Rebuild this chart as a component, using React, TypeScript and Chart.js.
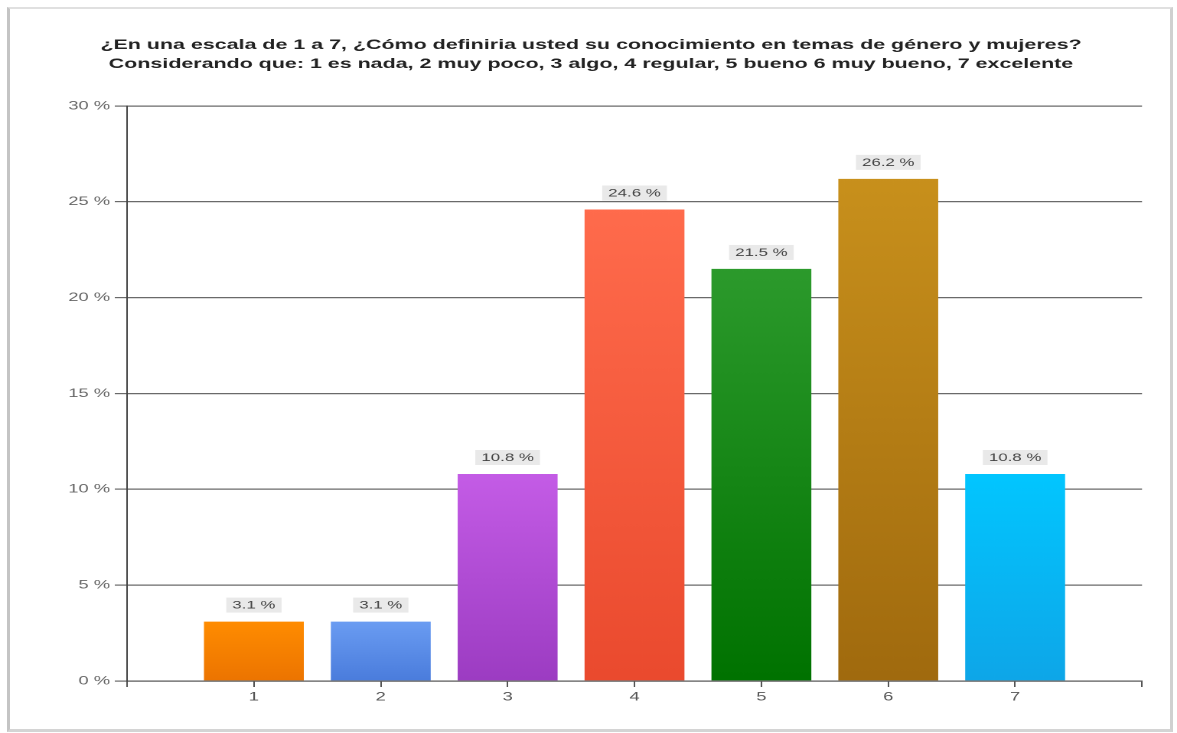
import React, { useEffect, useRef } from "react";
import { Chart, registerables } from "chart.js";

Chart.register(...registerables);

const TITLE_LINES = [
  "¿En una escala de 1 a 7, ¿Cómo definiria usted su conocimiento en temas de género y mujeres?",
  "Considerando que: 1 es nada, 2 muy poco, 3 algo, 4 regular, 5 bueno 6 muy bueno, 7 excelente",
];
const CATEGORIES = ["1", "2", "3", "4", "5", "6", "7"];
const VALUES = [3.1, 3.1, 10.8, 24.6, 21.5, 26.2, 10.8];
const TOP_COLORS = ["#FF8C00", "#6A9CF2", "#C45CE6", "#FF6B4C", "#2C9A2C", "#C8901C", "#02C6FF"];
const BOTTOM_COLORS = ["#EC7400", "#4A7CDC", "#9C3CC2", "#EA4A2E", "#007200", "#A06A0E", "#0EA6E8"];
const Y_TICKS = [0, 5, 10, 15, 20, 25, 30];

const DISPLAY_W = 1177;
const DISPLAY_H = 733;
const LOGICAL_W = 769;
const S = DISPLAY_W / LOGICAL_W;

const FONT = '"Liberation Sans", Arial, sans-serif';

const titlePlugin = {
  id: "stretchedTitle",
  afterDraw(chart: any) {
    const ctx = chart.ctx;
    ctx.save();
    ctx.font = `bold 14px ${FONT}`;
    ctx.fillStyle = "#222";
    ctx.textAlign = "center";
    ctx.textBaseline = "middle";
    const cx = 591 / S;
    TITLE_LINES.forEach((line, i) => ctx.fillText(line, cx, 45 + i * 19));
    ctx.restore();
  },
};

const valueLabelPlugin = {
  id: "valueLabels",
  afterDatasetsDraw(chart: any) {
    const ctx = chart.ctx;
    const meta = chart.getDatasetMeta(0);
    ctx.save();
    ctx.font = `11px ${FONT}`;
    ctx.textAlign = "center";
    ctx.textBaseline = "middle";
    meta.data.forEach((bar: any, i: number) => {
      const v = chart.data.datasets[0].data[i];
      if (v === null || v === undefined) return;
      const text = `${Number(v).toFixed(1)} %`;
      const w = ctx.measureText(text).width + 8;
      const h = 15;
      const bottom = bar.y - 9;
      ctx.fillStyle = "#e9e9e9";
      ctx.fillRect(bar.x - w / 2, bottom - h, w, h);
      ctx.fillStyle = "#444";
      ctx.fillText(text, bar.x, bottom - h / 2 + 0.5);
    });
    ctx.restore();
  },
};

export default function App() {
  const canvasRef = useRef<HTMLCanvasElement | null>(null);

  useEffect(() => {
    const canvas = canvasRef.current;
    if (!canvas) return;
    const labels = ["", ...CATEGORIES, ""];
    const data = [null, ...VALUES, null];
    const chart = new Chart(canvas, {
      type: "bar",
      data: {
        labels,
        datasets: [
          {
            data,
            borderWidth: 0,
            categoryPercentage: 1,
            barPercentage: 100 / 127,
            backgroundColor: (c: any) => {
              const i = c.dataIndex - 1;
              if (i < 0 || i >= VALUES.length) return "transparent";
              const ch = c.chart;
              const y = ch.scales.y;
              if (!y || !ch.chartArea) return TOP_COLORS[i];
              const top = y.getPixelForValue(VALUES[i]);
              const base = y.getPixelForValue(0);
              const g = ch.ctx.createLinearGradient(0, top, 0, base);
              g.addColorStop(0, TOP_COLORS[i]);
              g.addColorStop(1, BOTTOM_COLORS[i]);
              return g;
            },
          },
        ],
      },
      options: {
        responsive: false,
        animation: false,
        devicePixelRatio: 2,
        layout: { padding: { top: 106, left: 0, right: LOGICAL_W - 1142 / S, bottom: 22 } },
        plugins: {
          legend: { display: false },
          title: { display: false },
          tooltip: { enabled: false },
        },
        scales: {
          x: {
            type: "category",
            offset: false,
            grid: {
              display: true,
              offset: false,
              drawOnChartArea: false,
              drawTicks: true,
              tickLength: 6,
              color: "#555",
            },
            border: { display: true, color: "#555", width: 1 },
            ticks: {
              color: "#555",
              font: { family: FONT, size: 12 },
              padding: 3,
              autoSkip: false,
              maxRotation: 0,
            },
            afterFit: (scale: any) => {
              scale.height = 30;
            },
          },
          y: {
            min: 0,
            max: 30,
            afterBuildTicks: (scale: any) => {
              scale.ticks = Y_TICKS.map((v) => ({ value: v }));
            },
            grid: {
              color: "#6a6a6a",
              lineWidth: 1.2,
              tickLength: 8,
              drawTicks: true,
            },
            border: { display: true, color: "#444", width: 1 },
            ticks: {
              color: "#666",
              font: { family: FONT, size: 12 },
              padding: 3,
              callback: (v: any) => `${v} %`,
            },
            afterFit: (scale: any) => {
              scale.width = 127 / S;
            },
          },
        },
      },
      plugins: [titlePlugin, valueLabelPlugin],
    } as any);
    return () => chart.destroy();
  }, []);

  return (
    <div style={{ position: "absolute", left: 0, top: 0, width: DISPLAY_W, height: DISPLAY_H, background: "#fff", overflow: "hidden" }}>
      <div
        style={{
          position: "absolute",
          left: 7,
          top: 7,
          width: 1166,
          height: 725,
          boxSizing: "border-box",
          borderTop: "2px solid #e0e0e0",
          borderLeft: "3px solid #c4c4c4",
          borderRight: "3px solid #d0d0d0",
          borderBottom: "3px solid #d4d4d4",
        }}
      />
      <canvas
        ref={canvasRef}
        width={LOGICAL_W}
        height={DISPLAY_H}
        style={{ position: "absolute", left: 0, top: 0, width: DISPLAY_W + "px", height: DISPLAY_H + "px" }}
      />
    </div>
  );
}
